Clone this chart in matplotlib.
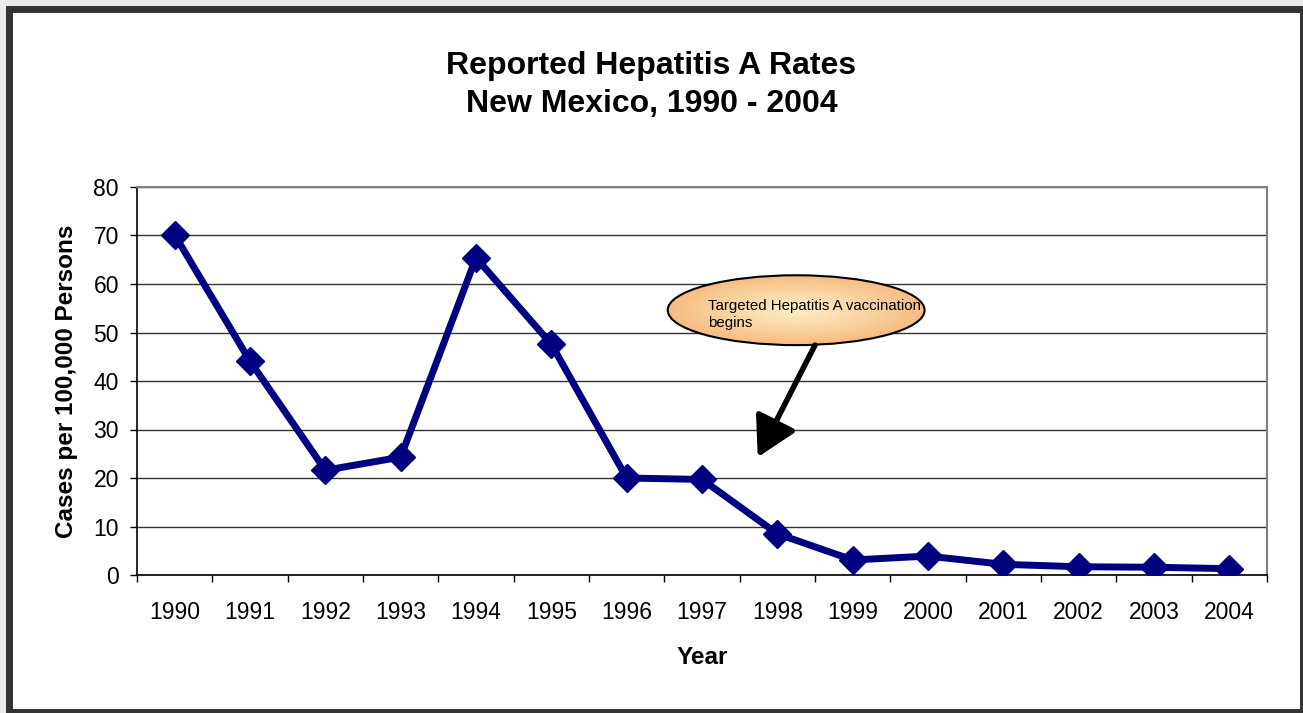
import numpy as np
import matplotlib
matplotlib.use("Agg")
import matplotlib.pyplot as plt
from matplotlib.patches import Ellipse, Rectangle

plt.rcParams['font.family'] = ['Liberation Sans', 'DejaVu Sans']

# data
years = ['1990', '1991', '1992', '1993', '1994', '1995', '1996', '1997',
         '1998', '1999', '2000', '2001', '2002', '2003', '2004']
rates = [70.1, 44.1, 21.6, 24.3, 65.4, 47.6, 20.0, 19.7,
         8.5, 3.1, 3.9, 2.2, 1.7, 1.6, 1.3]
yticks = [0, 10, 20, 30, 40, 50, 60, 70, 80]
note = 'Targeted Hepatitis A vaccination\nbegins'

W, H = 1303, 713
fig = plt.figure(figsize=(W / 100, H / 100), dpi=100)
fig.patch.set_facecolor('#ececec')

# white page + dark outer frame
frame_xy = (8.5 / W, 1 - 711.5 / H)
frame_w, frame_h = (1302.5 - 8.5) / W, (711.5 - 8.5) / H
fig.patches.append(Rectangle(frame_xy, frame_w, frame_h, transform=fig.transFigure,
                             facecolor='white', edgecolor='none', zorder=-10))
fig.patches.append(Rectangle(frame_xy, frame_w, frame_h, transform=fig.transFigure,
                             facecolor='none', edgecolor='#333333', lw=5.0, zorder=10))

ax = fig.add_axes([137 / W, 138 / H, 1130 / W, 388 / H])
ax.patch.set_alpha(0)

x = np.arange(len(years))
ax.plot(x, rates, color='#000080', lw=5, marker='D', ms=14, zorder=3)

# axes styling
ax.set_yticks(yticks)
ax.set_yticklabels([str(v) for v in yticks])
ax.set_xticks(np.arange(-0.5, len(years), 1))
ax.set_xticklabels([])
ax.set_xticks(x, minor=True)
ax.set_xticklabels(years, minor=True)
ax.tick_params(axis='x', which='major', length=5, width=1, direction='out')
ax.tick_params(axis='x', which='minor', length=0, pad=18.5, labelsize=16.5)
ax.tick_params(axis='y', length=5, width=1, direction='out', pad=8, labelsize=16.5)

ax.yaxis.grid(True, color='#333333', lw=1)
ax.set_axisbelow(True)
for s in ['left', 'bottom']:
    ax.spines[s].set_color('black')
    ax.spines[s].set_linewidth(1.2)
for s in ['top', 'right']:
    ax.spines[s].set_color('#808080')
    ax.spines[s].set_linewidth(1.5)

ax.set_xlabel('Year', fontsize=17.5, fontweight='bold')
ax.xaxis.set_label_coords(0.5, -0.183)
ax.set_ylabel('Cases per 100,000 Persons', fontsize=17.5, fontweight='bold')
ax.yaxis.set_label_coords(-0.0525, 0.5)

fig.text(0.5, 1 - 85 / H, 'Reported Hepatitis A Rates\nNew Mexico, 1990 - 2004',
         ha='center', va='center', fontsize=23, fontweight='bold', linespacing=1.38)

# callout ellipse with gradient fill
cx, cy, ew, eh = 8.25, 54.6, 3.41, 14.4
ell = Ellipse((cx, cy), ew, eh, facecolor='none', edgecolor='black', lw=1.5, zorder=5)
ax.add_patch(ell)
gx, gy = np.meshgrid(np.linspace(-1, 1, 200), np.linspace(-1, 1, 100))
t = np.clip(np.sqrt(gx ** 2 + gy ** 2), 0, 1)[..., None]
c_in = np.array([255, 240, 200]) / 255
c_out = np.array([247, 188, 130]) / 255
img = c_in * (1 - t) + c_out * t
im = ax.imshow(img, extent=[cx - ew / 2, cx + ew / 2, cy - eh / 2, cy + eh / 2],
               aspect='auto', zorder=4, origin='lower')
im.set_clip_path(ell)
ax.text(7.08, 53.7, note, fontsize=10.8, ha='left', va='center', linespacing=1.25, zorder=6)

ax.annotate('', xy=(7.74, 24.3), xytext=(8.5, 47.4),
            arrowprops=dict(arrowstyle='-|>,head_length=0.8,head_width=0.45',
                            lw=4, color='black', mutation_scale=30,
                            shrinkA=0, shrinkB=0), zorder=6)

ax.set_xlim(-0.5, len(years) - 0.5)
ax.set_ylim(0, 80)

fig.savefig('out.png', dpi=100, facecolor=fig.get_facecolor())
